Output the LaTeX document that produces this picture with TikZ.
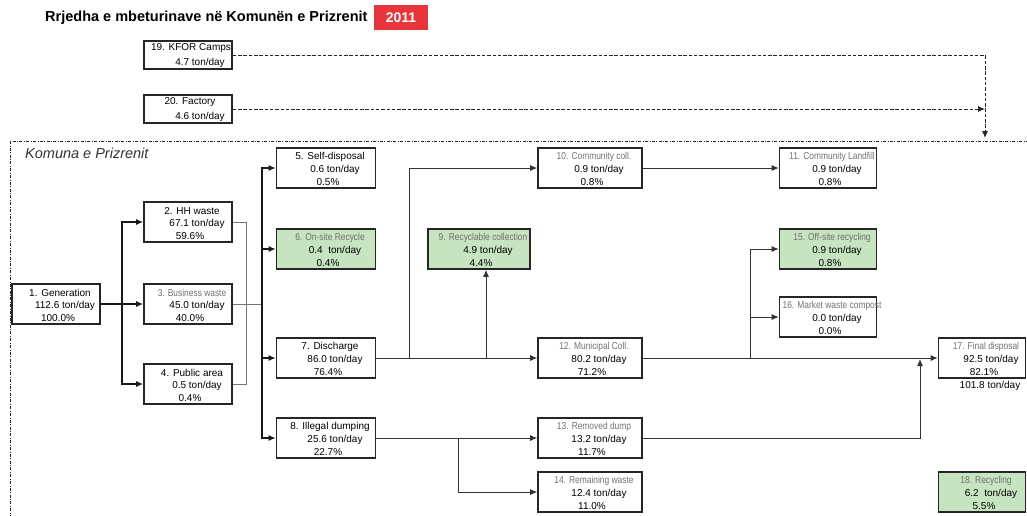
\documentclass[tikz,border=0pt]{standalone}
\usepackage{fontspec}
\setmainfont{Liberation Sans}
\newfontfamily\narrowfont{Liberation Sans}[FakeStretch=0.84]
\usetikzlibrary{arrows.meta}
\definecolor{boxgreen}{HTML}{C6E4C0}
\definecolor{titlered}{HTML}{E8343B}
\definecolor{lblgray}{HTML}{707070}
\tikzset{
  box/.style={draw=black!85, line width=1.6pt, minimum height=40pt, inner sep=0pt},
  gbox/.style={box, fill=boxgreen},
  lbl/.style={font=\fontsize{10}{11}\selectfont, inner sep=0pt, text=black},
  glbl/.style={font=\narrowfont\fontsize{10}{11}\selectfont, inner sep=0pt, text=lblgray},
  val/.style={font=\fontsize{10}{11}\selectfont, inner sep=0pt, text=black},
  tip/.style={-{Latex[length=7pt,width=6pt]}},
  arr/.style={draw=black!80, line width=0.9pt, tip},
  mainarr/.style={draw=black!90, line width=1.3pt, tip},
  thinc/.style={draw=black!55, line width=0.6pt},
  dline/.style={draw=black!85, line width=0.9pt, dash pattern=on 3.5pt off 1.8pt},
  framestyle/.style={draw=black!85, line width=0.7pt, dash pattern=on 3pt off 1.5pt on 0.8pt off 1.5pt},
}
\newcommand\fbx[9]{%
  \node[#2, minimum width=#5] (#1) at (#3,#4) {};
  \node[#6] (#1l) at ([xshift=4pt,yshift=-9.5pt]#1.north) {#7};
  \node[val] (#1t) at ([xshift=9pt,yshift=-22.5pt]#1.north) {#8};
  \node[val] (#1p) at ([xshift=2pt,yshift=-35pt]#1.north) {#9};
}
\begin{document}
\begin{tikzpicture}[x=1pt,y=-1pt]
\useasboundingbox (0,0) rectangle (1027,515);
% title
\node[anchor=west, font=\bfseries\fontsize{14.5}{16}\selectfont, inner sep=0pt] (title) at (45,18) {Rrjedha e mbeturinave në Komunën e Prizrenit};
\node[fill=titlered, text=white, font=\bfseries\fontsize{14}{16}\selectfont, minimum width=54pt, minimum height=25pt, inner sep=0pt] (year) at (401,17.5) {2011};
% frame
\draw[framestyle] (10,141) rectangle (1045,530);
\node[anchor=west, font=\itshape\fontsize{14.5}{16}\selectfont, text=black!80, inner sep=0pt] (area) at (25,153) {Komuna e Prizrenit};
% outside sources
\node[box, minimum width=88, minimum height=28] (n19) at (188,55) {};
\node[lbl] (n19l) at (191,48.5) {19. KFOR Camps};
\node[val] (n19t) at (200,62.5) {4.7 ton/day};
\node[box, minimum width=88, minimum height=28] (n20) at (188,109) {};
\node[lbl] (n20l) at (190,102) {20. Factory};
\node[val] (n20t) at (200,116.5) {4.6 ton/day};
% boxes
\fbx{n1}{box}{56}{304}{88}{lbl}{1. Generation}{112.6 ton/day}{100.0\%}
\fbx{n2}{box}{188}{222}{88}{lbl}{2. HH waste}{67.1 ton/day}{59.6\%}
\fbx{n3}{box}{188}{304}{88}{glbl}{3. Business waste}{45.0 ton/day}{40.0\%}
\fbx{n4}{box}{188}{384}{88}{lbl}{4. Public area}{0.5 ton/day}{0.4\%}
\fbx{n5}{box}{326}{168}{99}{lbl}{5. Self-disposal}{0.6 ton/day}{0.5\%}
\fbx{n6}{gbox}{326}{249}{99}{glbl}{6. On-site Recycle}{0.4\ \ ton/day}{0.4\%}
\fbx{n7}{box}{326}{358}{99}{lbl}{7. Discharge}{86.0 ton/day}{76.4\%}
\fbx{n8}{box}{326}{438}{99}{lbl}{8. Illegal dumping}{25.6 ton/day}{22.7\%}
\fbx{n9}{gbox}{479}{249}{102}{glbl}{9. Recyclable collection}{4.9 ton/day}{4.4\%}
\fbx{n10}{box}{590}{168}{104}{glbl}{10. Community coll.}{0.9 ton/day}{0.8\%}
\fbx{n11}{box}{828}{168}{97}{glbl}{11. Community Landfill}{0.9 ton/day}{0.8\%}
\fbx{n12}{box}{590}{358}{104}{glbl}{12. Municipal Coll.}{80.2 ton/day}{71.2\%}
\fbx{n13}{box}{590}{438}{104}{glbl}{13. Removed dump}{13.2 ton/day}{11.7\%}
\fbx{n14}{box}{590}{492}{104}{glbl}{14. Remaining waste}{12.4 ton/day}{11.0\%}
\fbx{n15}{gbox}{828}{249}{97}{glbl}{15. Off-site recycling}{0.9 ton/day}{0.8\%}
\fbx{n16}{box}{828}{317}{97}{glbl}{16. Market waste compost}{0.0 ton/day}{0.0\%}
\fbx{n17}{box}{982}{358}{87}{glbl}{17. Final disposal}{92.5 ton/day}{82.1\%}
\node[val] (n17x) at (990,386) {101.8 ton/day};
\fbx{n18}{gbox}{982}{492}{87}{glbl}{18. Recycling}{6.2\ \ ton/day}{5.5\%}
% dashed inputs
\coordinate (drop) at (985,138);
\draw[dline, tip] (n19.east) -| (drop);
\draw[dline, tip] (n20.east) -- (n20.east -| drop);
% generation split
\coordinate (j1) at (122,304);
\draw[mainarr] (n1.east) -- (n3.west);
\draw[mainarr] (j1) |- (n2.west);
\draw[mainarr] (j1) |- (n4.west);
% merge
\draw[thinc] (n2.east) -- ++(13,0) |- (n4.east);
\coordinate (bus) at (262,304);
\draw[thinc] (n3.east) -- (bus);
\draw[mainarr] (bus) |- (n5.west);
\draw[mainarr] (bus) |- (n6.west);
\draw[mainarr] (bus) |- (n7.west);
\draw[mainarr] (bus) |- (n8.west);
% discharge
\coordinate (j7a) at (409,358);
\coordinate (j7b) at (486,358);
\draw[arr] (n7.east) -- (n12.west);
\draw[arr] (j7a) |- (n10.west);
\draw[arr] (j7b) -- (j7b |- n9.south);
\draw[arr] (n10.east) -- (n11.west);
% municipal
\coordinate (j12) at (750,358);
\draw[arr] (n12.east) -- (n17.west);
\draw[arr] (j12) |- (n15.west);
\draw[arr] (j12) |- (n16.west);
% illegal
\coordinate (j8) at (458,438);
\draw[arr] (n8.east) -- (n13.west);
\draw[arr] (j8) |- (n14.west);
\coordinate (j13) at (920,359);
\draw[arr] (n13.east) -| (j13);
\end{tikzpicture}
\end{document}
